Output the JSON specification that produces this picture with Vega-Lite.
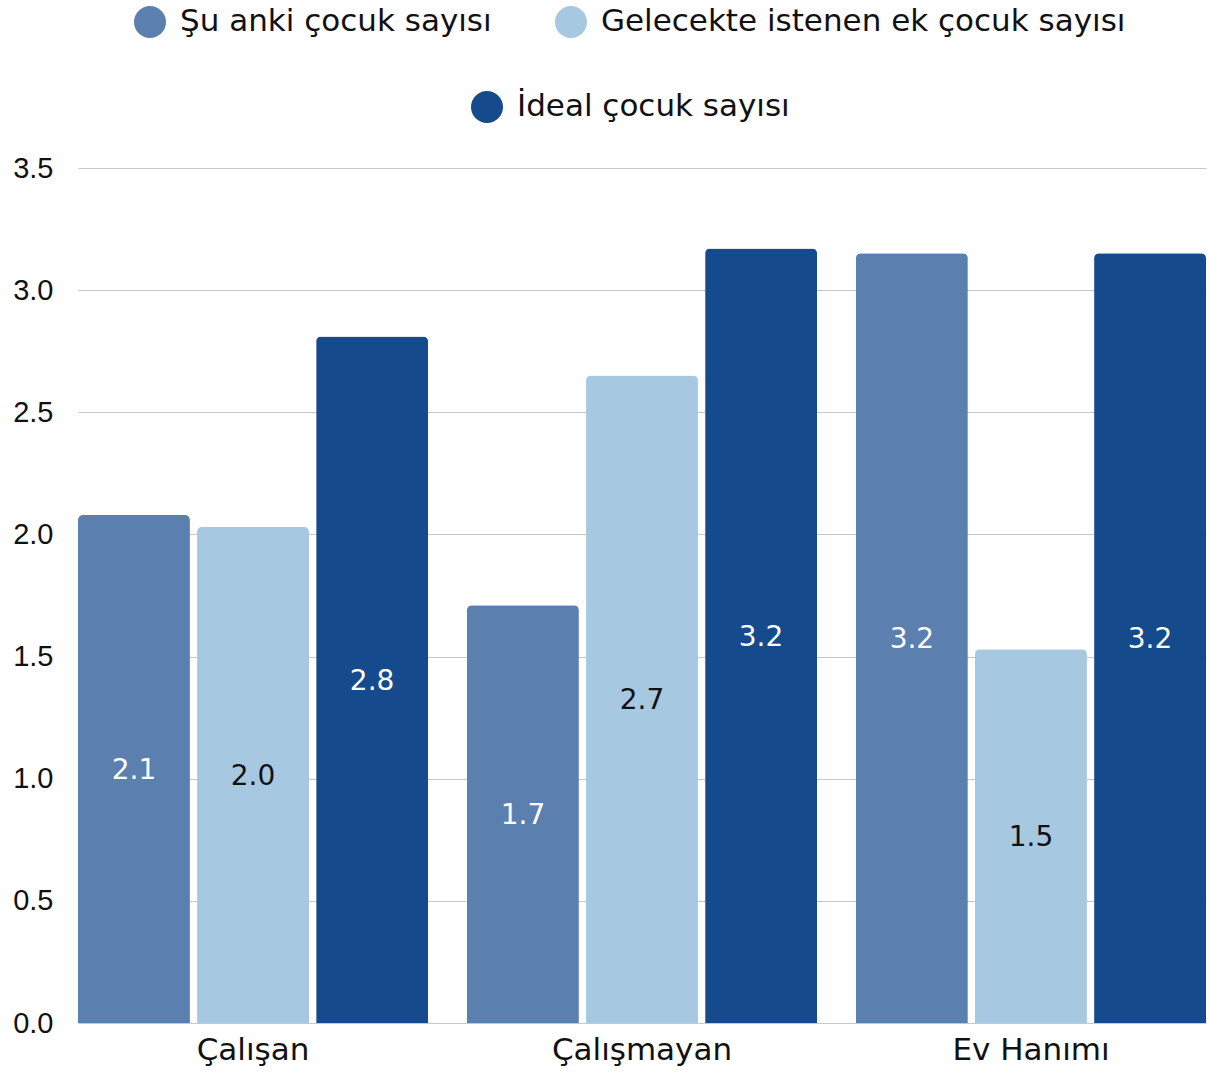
{
  "$schema": "https://vega.github.io/schema/vega-lite/v6.json",
  "autosize": "none",
  "width": 1128,
  "height": 855,
  "padding": {"left": 78, "top": 168, "right": 1, "bottom": 51},
  "background": "white",
  "data": {"values": [
    {"cat": "Çalışan", "s": "Şu anki çocuk sayısı", "v": 2.08},
    {"cat": "Çalışan", "s": "Gelecekte istenen ek çocuk sayısı", "v": 2.03},
    {"cat": "Çalışan", "s": "İdeal çocuk sayısı", "v": 2.81},
    {"cat": "Çalışmayan", "s": "Şu anki çocuk sayısı", "v": 1.71},
    {"cat": "Çalışmayan", "s": "Gelecekte istenen ek çocuk sayısı", "v": 2.651},
    {"cat": "Çalışmayan", "s": "İdeal çocuk sayısı", "v": 3.17},
    {"cat": "Ev Hanımı", "s": "Şu anki çocuk sayısı", "v": 3.151},
    {"cat": "Ev Hanımı", "s": "Gelecekte istenen ek çocuk sayısı", "v": 1.53},
    {"cat": "Ev Hanımı", "s": "İdeal çocuk sayısı", "v": 3.151}
  ]},
  "encoding": {
    "x": {"field": "cat", "type": "nominal", "sort": null, "title": null,
      "scale": {"paddingInner": 0.1, "paddingOuter": 0},
      "axis": {"labelAngle": 0, "domain": false, "ticks": false, "labelFontSize": 31, "labelFont": "DejaVu Sans", "labelColor": "#111", "labelPadding": 12, "labelLimit": 400}},
    "xOffset": {"field": "s", "type": "nominal", "sort": null,
      "scale": {"domain": ["Şu anki çocuk sayısı", "Gelecekte istenen ek çocuk sayısı", "İdeal çocuk sayısı"], "paddingInner": 0.06, "paddingOuter": 0}}
  },
  "layer": [
    {
      "transform": [{"filter": {"field": "s", "oneOf": ["Şu anki çocuk sayısı", "Gelecekte istenen ek çocuk sayısı"]}}],
      "mark": {"type": "bar", "cornerRadiusTopLeft": 5, "cornerRadiusTopRight": 5},
      "encoding": {
        "y": {"field": "v", "type": "quantitative", "title": null,
          "scale": {"domain": [0, 3.5], "nice": false},
          "axis": {"values": [0, 0.5, 1, 1.5, 2, 2.5, 3, 3.5], "format": ".1f", "domain": false, "ticks": false, "gridColor": "#c8c8c8", "labelFontSize": 29, "labelFont": "Liberation Sans", "labelColor": "#111", "labelPadding": 25}},
        "color": {"field": "s", "type": "nominal", "title": null,
          "scale": {"domain": ["Şu anki çocuk sayısı", "Gelecekte istenen ek çocuk sayısı"], "range": ["#5b7fae", "#a6c8e0"]},
          "legend": {"orient": "none", "legendX": 56, "legendY": -162, "direction": "horizontal", "symbolType": "circle", "symbolSize": 1024, "symbolStrokeWidth": 0, "labelFontSize": 31, "labelFont": "DejaVu Sans", "labelColor": "#111", "labelOffset": 14, "columnPadding": 63, "labelLimit": 800}}
      }
    },
    {
      "transform": [{"filter": {"field": "s", "oneOf": ["İdeal çocuk sayısı"]}}],
      "mark": {"type": "bar", "cornerRadiusTopLeft": 5, "cornerRadiusTopRight": 5},
      "encoding": {
        "y": {"field": "v", "type": "quantitative", "scale": {"domain": [0, 3.5], "nice": false}, "axis": null},
        "color": {"field": "s", "type": "nominal", "title": null,
          "scale": {"domain": ["İdeal çocuk sayısı"], "range": ["#154a8c"]},
          "legend": {"orient": "none", "legendX": 393, "legendY": -77, "direction": "horizontal", "symbolType": "circle", "symbolSize": 1024, "symbolStrokeWidth": 0, "labelFontSize": 31, "labelFont": "DejaVu Sans", "labelColor": "#111", "labelOffset": 14, "labelLimit": 800}}
      }
    },
    {
      "mark": {"type": "text", "fontSize": 28, "font": "DejaVu Sans", "baseline": "middle", "align": "center", "dy": 2},
      "encoding": {
        "y": {"field": "v", "type": "quantitative", "scale": {"domain": [0, 7], "nice": false}, "axis": null},
        "text": {"field": "v", "type": "quantitative", "format": ".1f"},
        "color": {"condition": {"test": "datum.s === 'Gelecekte istenen ek çocuk sayısı'", "value": "#111111"}, "value": "#ffffff"}
      }
    }
  ],
  "resolve": {"scale": {"color": "independent", "y": "independent"}},
  "config": {"view": {"stroke": null}}
}
